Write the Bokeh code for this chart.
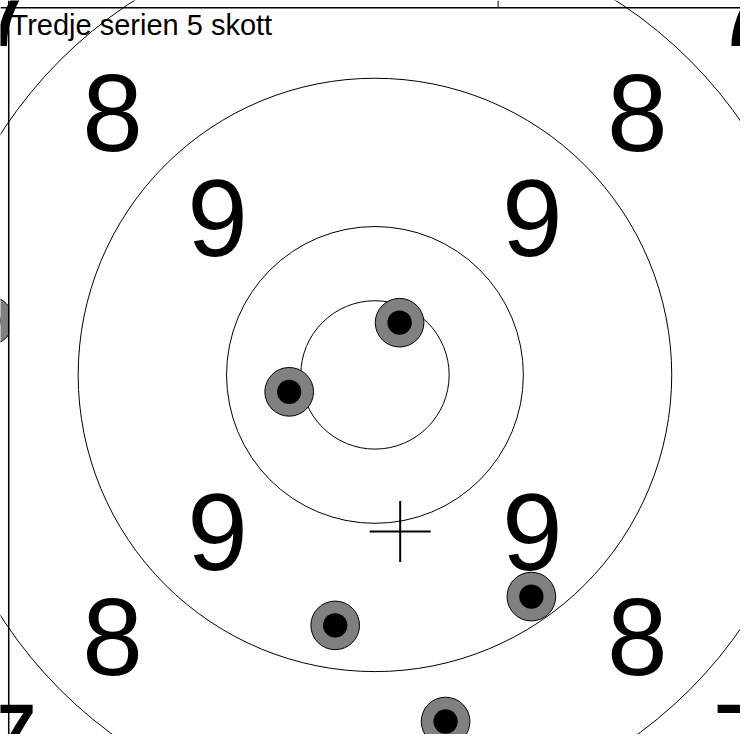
import math
from bokeh.plotting import figure
from bokeh.models import Span, Label
from bokeh.core.properties import value
from bokeh.embed import file_html
from bokeh.resources import INLINE

# ---- data ----
title_text = "Tredje serien 5 skott"
ring_radii = [25, 50, 100, 150, 200]          # ring boundaries (target units)
ring_scores = ["9", "8", "7"]                  # labelled score bands (between ring_radii[1..4])
shot_x = [8.3, -28.9, -13.4, 52.7, 23.8]
shot_y = [17.6, -5.7, -84.4, -74.7, -116.8]
neighbour_shot_x = [-130.1]                    # shot of the neighbouring panel, just visible
neighbour_shot_y = [18.3]
bullet_outer = 8.2
bullet_inner = 4.1
frame_left = -123.4
frame_top = 123.73

W, H = 740, 734
p = figure(width=W, height=H, output_backend="svg", toolbar_location=None,
           x_range=(-126.17, 123.17), y_range=(-121.17, 126.17),
           min_border=0, background_fill_color="white", border_fill_color="white")
p.xaxis.visible = False
p.yaxis.visible = False
p.grid.visible = False
p.outline_line_color = None

# rings (drawn ones)
drawn = ring_radii[:4]
p.circle(x=[0] * len(drawn), y=[0] * len(drawn), radius=drawn,
         fill_color=None, line_color="black", line_width=1)

# score labels at 45 degrees in middle of each band
lx, ly, lt = [], [], []
for i, s in enumerate(ring_scores):
    r = (ring_radii[i + 1] + ring_radii[i + 2]) / 2 / math.sqrt(2)
    for sx in (-1, 1):
        for sy in (-1, 1):
            lx.append(sx * r); ly.append(sy * r); lt.append(s)
p.text(x=lx, y=ly, text=lt, text_font=value("Liberation Sans"),
       text_font_size="109px", text_align="center", text_baseline="middle",
       text_color="black")

# shots
p.circle(x=shot_x, y=shot_y, radius=bullet_outer, fill_color="#808080",
         line_color="black", line_width=1)
p.circle(x=shot_x, y=shot_y, radius=bullet_inner, fill_color="black",
         line_color=None)

# neighbouring panel's shot, clipped at this panel's left frame line
for cx, cy in zip(neighbour_shot_x, neighbour_shot_y):
    n = 120
    px, py = [], []
    for k in range(n + 1):
        a = 2 * math.pi * k / n
        px.append(min(cx + bullet_outer * math.cos(a), frame_left))
        py.append(cy + bullet_outer * math.sin(a))
    p.patch(px, py, fill_color="#808080", line_color="black", line_width=1)
    p.circle(x=[cx], y=[cy], radius=bullet_inner, fill_color="black",
             line_color=None)

# mean point of impact
mx = sum(shot_x) / len(shot_x)
my = sum(shot_y) / len(shot_y)
p.scatter(x=[mx], y=[my], marker="cross", size=61, line_color="black",
          line_width=2)

# title
p.add_layout(Label(x=-122.8, y=117.75, text=title_text,
                   text_font="Liberation Sans", text_font_size="29px",
                   text_color="black", text_baseline="middle"))

# panel frame lines (left and top) and the divider of the panel above
p.add_layout(Span(location=frame_left, dimension="height",
                  line_color="black", line_width=1.5))
p.add_layout(Span(location=frame_top, dimension="width",
                  line_color="black", line_width=1.5))
p.segment(x0=[41.5], y0=[frame_top], x1=[41.5], y1=[126.17],
          line_color="black", line_width=1)

open("out.html", "w").write(file_html(p, INLINE))
